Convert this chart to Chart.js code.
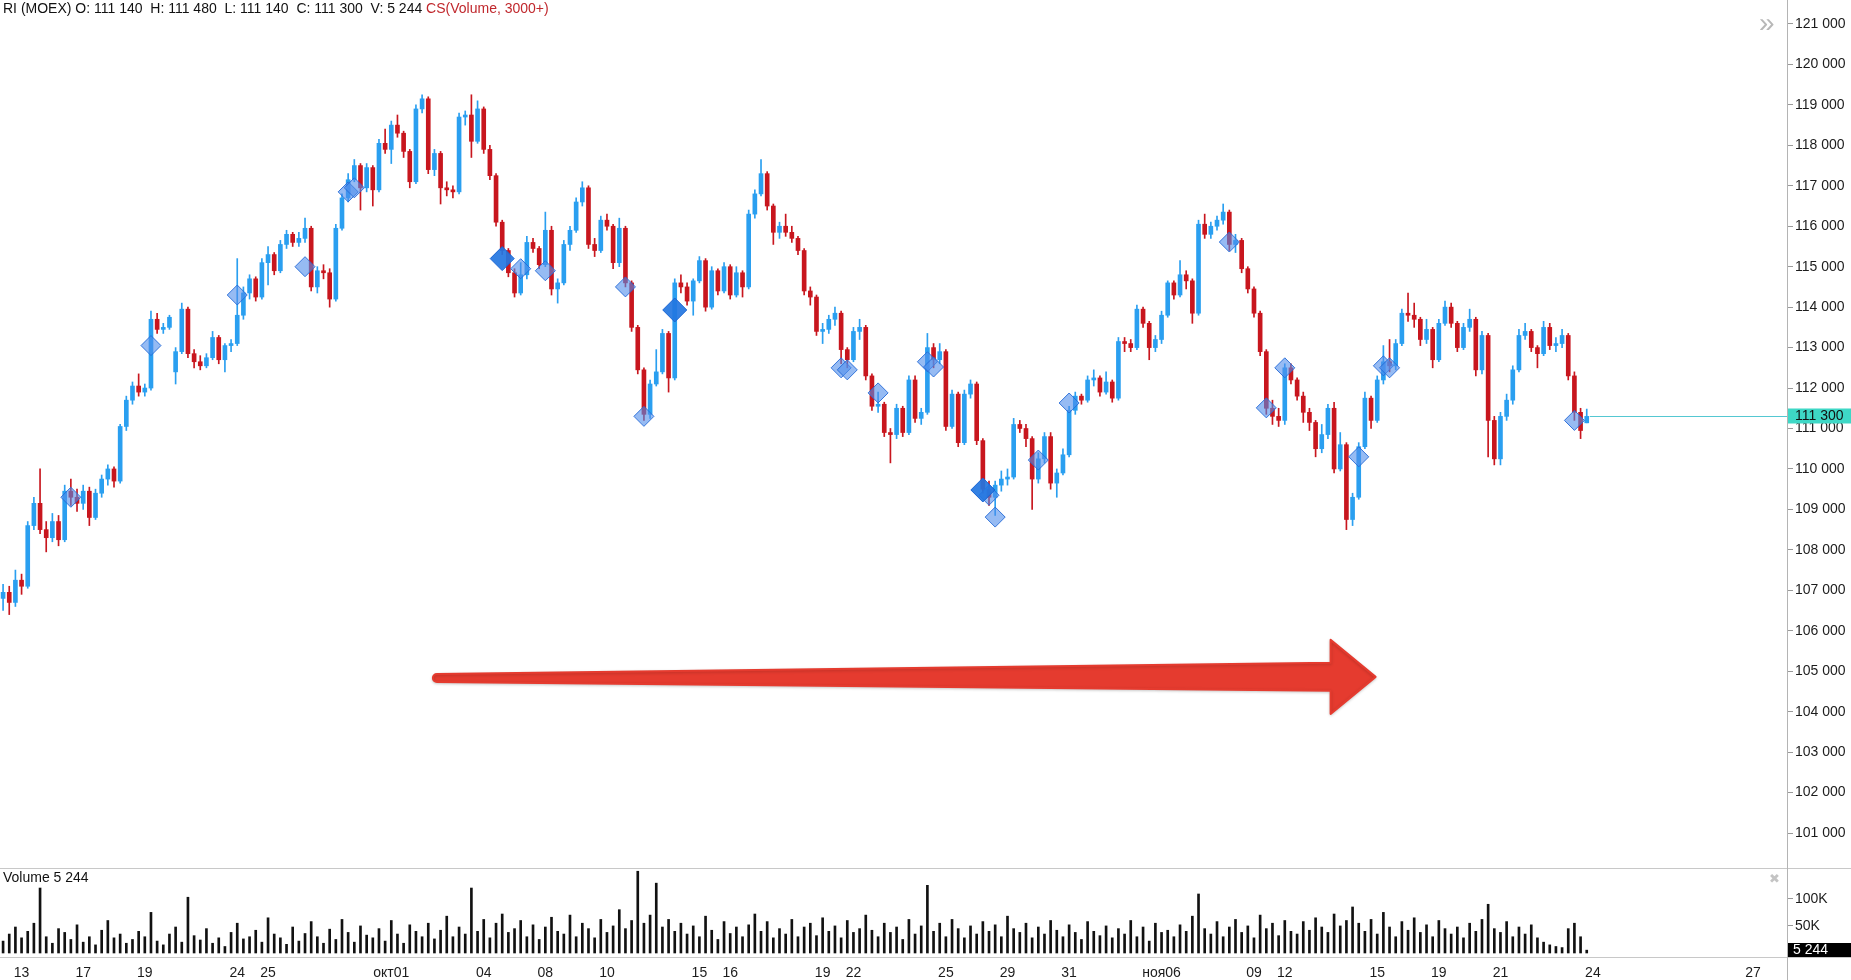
<!DOCTYPE html>
<html>
<head>
<meta charset="utf-8">
<script src="https://cdn.jsdelivr.net/npm/chart.js@4.4.1/dist/chart.umd.min.js"></script>
<style>
  body { margin: 0; background: #fff; width: 1851px; height: 980px; overflow: hidden; position: relative;
         font-family: "Liberation Sans", Arial, sans-serif; }
  #main { position: absolute; left: 0; top: 0; }
  #vol { position: absolute; left: 0; top: 868px; }
  .hline { position: absolute; left: 0; width: 1851px; height: 1px; background: #c8c8c8; }
  .vline { position: absolute; left: 1787px; top: 0; width: 1px; height: 980px; background: #b4b4b4; }
  #hdr { position: absolute; left: 3px; top: 0; font-size: 14px; line-height: 16px; color: #111; white-space: pre; }
  #hdr span { color: #c0282d; }
  #vlab { position: absolute; left: 3px; top: 869px; font-size: 14px; line-height: 16px; color: #111; white-space: pre; }
  #more { position: absolute; left: 1759px; top: 8px; font-size: 28px; line-height: 30px; color: #b8b8b8; }
  #shut { position: absolute; left: 1769px; top: 871px; font-size: 13px; line-height: 16px; color: #c4c4c4;
          font-family: "DejaVu Sans", sans-serif; }
</style>
</head>
<body>
<canvas id="main" width="1851" height="868"></canvas>
<canvas id="vol" width="1851" height="112"></canvas>
<div class="hline" style="top:868px"></div>
<div class="hline" style="top:957px"></div>
<div class="vline"></div>
<div id="hdr"></div>
<div id="vlab"></div>
<div id="more">»</div>
<div id="shut">✖</div>
<script>
// RI (MOEX), candles from 12 Sep to 23 Nov, 5 candles per trading day
const opens = [106800,106950,106700,107250,107100,108600,109150,108500,108300,108700,
  108250,109450,109300,109150,109450,108800,109400,109750,110000,109700,
  111050,111700,112050,111900,112000,113700,113450,113500,112400,112900,
  113950,112850,112650,112550,112750,113250,112700,113050,113100,113800,
  114350,114700,114250,115100,115300,114900,115550,115800,115600,115700,
  115950,114500,114900,114850,114200,115950,116700,117150,117500,116950,
  117450,116900,118050,117900,118500,118300,117850,117100,118900,119150,
  117400,117800,116950,116900,116850,118700,118750,118100,118900,117900,
  117250,116100,115400,114850,114350,114800,115600,115450,115050,115900,
  114450,114600,115550,115900,116600,116950,115550,115400,116150,116000,
  115100,115950,114600,113500,112450,111350,112100,112400,113350,112250,
  114600,114500,114150,114650,115150,114000,114900,114400,115000,114300,
  114850,114500,116300,116800,117300,116500,115850,116000,115850,115700,
  115400,114400,114250,113400,113450,113700,113850,112950,112700,113400,
  113500,112300,111550,111600,110900,110850,111500,110900,112200,111250,
  111400,113000,112700,112900,111050,111850,110650,111850,112100,110700,
  109500,109300,109600,109750,109800,111100,111000,110750,109750,110250,
  110800,109650,109900,110350,111450,111800,111700,112200,112250,111900,
  112150,111750,113150,113100,113000,113950,113600,113000,113200,113800,
  114600,114300,114800,114650,113850,116050,115800,116000,116150,116350,
  115550,115650,114950,114450,113850,112900,111500,111300,111200,112500,
  112200,111800,111400,111150,110500,110850,111500,110000,110600,108750,
  109300,110550,111750,111200,112200,112650,112550,113100,113850,113800,
  113700,113200,113450,112700,113600,114000,113600,113000,113500,113700,
  112450,113300,111200,110250,111300,111700,112450,113300,113400,113000,
  112850,113500,113050,113100,113300,112300,111400,111140];
const highs = [107150,107100,107500,107400,108700,109300,110000,108700,108900,108850,
  109600,109750,109500,109600,109550,109500,109850,110100,110050,111100,
  111800,112150,112350,112100,113900,113850,113600,113800,113000,114100,
  114000,112950,112800,112850,113400,113300,113100,113200,115200,114500,
  114800,114750,115200,115500,115350,115650,115900,115850,115850,116200,
  116000,115000,115050,114950,116050,116800,117300,117650,117550,117550,
  117500,118150,118400,118600,118750,118350,117900,119000,119250,119200,
  117900,117850,117100,117000,118800,118850,119250,119100,118950,118000,
  117300,116150,115450,114950,115100,115750,115700,115500,116350,116000,
  114700,115650,116000,116700,117100,117000,115700,116250,116300,116050,
  116200,116000,114650,113550,112500,112200,112950,113450,113400,114700,
  114800,114600,114700,115250,115200,115000,114950,115100,115050,115000,
  114900,116400,116900,117650,117350,116550,116100,116300,116000,115750,
  115450,114500,114300,113600,113800,114000,113900,113000,113500,113700,
  113550,112350,111900,111650,111000,111600,111550,112300,112300,111500,
  113350,113100,113100,112950,111950,111900,111950,112200,112150,110750,
  109700,109700,109950,110000,111250,111200,111100,110800,110400,110900,
  110900,110000,110500,111550,111900,111850,112300,112450,112300,112400,
  112200,113250,113250,113200,114050,114000,113650,113300,113900,114650,
  114650,115150,114900,114700,116150,116300,116100,116250,116550,116400,
  115800,115700,115000,114500,113900,112950,111700,111500,112600,112600,
  112250,111900,111500,111200,111100,111600,111650,110900,110650,109400,
  110650,111900,111800,112300,113050,113200,113200,113950,114350,114100,
  113750,113700,113500,113700,114150,114100,113650,113600,113950,113750,
  113400,113350,111300,111400,111850,112550,113450,113600,113450,113050,
  113650,113600,113250,113450,113350,112400,111500,111480];
const lows = [106500,106400,106600,106900,107050,108500,108400,107950,108200,108100,
  108200,109100,108950,109000,108600,108750,109300,109600,109550,109650,
  110950,111600,111800,111800,111950,113350,113350,113450,112100,112850,
  112750,112500,112450,112500,112700,112600,112400,112900,113050,113700,
  114200,114150,114200,114550,114800,114850,115450,115500,115500,115600,
  114400,114350,114700,114000,114150,115900,116600,117100,116400,116850,
  116500,116850,117800,117550,118200,117700,116950,117050,118800,117300,
  117250,116550,116750,116700,116800,118500,117700,118050,117800,117150,
  116000,115300,114750,114250,114300,114700,115350,114950,115000,114300,
  114100,114550,115400,115850,116500,115450,115250,115350,115900,114950,
  115000,114500,113400,112350,111200,111250,112050,112350,111900,112200,
  114350,114050,113800,114600,113900,113950,114300,114350,114200,114250,
  114250,114450,116200,116750,116400,115550,115700,115750,115600,115300,
  114300,114050,113300,113100,113350,113550,112600,112500,112650,113200,
  112200,111450,111400,110800,110150,110750,110800,110850,111150,111100,
  111350,112500,112600,110950,111000,110550,110600,111750,110600,109400,
  109100,108850,109450,109600,109750,110900,110550,109000,109650,110150,
  109500,109300,109850,110300,111350,111600,111650,112050,111800,111850,
  111650,111700,112900,112900,112950,113500,112700,112900,113100,113750,
  114200,114250,114450,113600,113800,115700,115700,115900,116050,115400,
  115350,114850,114350,113750,112800,111350,111100,111050,111100,112100,
  111700,111150,110950,110300,110400,110750,109900,109950,108500,108600,
  109250,110500,111000,111150,112100,112400,112450,113050,113650,113500,
  113050,113100,112500,112650,113550,113500,112900,112950,113400,112300,
  112350,110300,110100,110100,111200,111600,112400,113200,112900,112500,
  112800,112950,112900,113000,112200,111200,110750,111140];
const closes = [106950,106700,107250,107100,108600,109150,108500,108300,108700,108250,
  109450,109300,109150,109450,108800,109400,109750,110000,109700,111050,
  111700,112050,111900,112000,113700,113450,113500,113750,112900,113950,
  112850,112650,112550,112750,113250,112700,113050,113100,113800,114350,
  114700,114250,115100,115300,114900,115550,115800,115600,115700,115950,
  114500,114900,114850,114200,115950,116700,117150,117500,116950,117450,
  116900,118050,117900,118500,118300,117850,117100,118900,119150,117400,
  117800,116950,116900,116850,118700,118750,118100,118900,117900,117250,
  116100,115400,114850,114350,114800,115600,115450,115050,115900,114450,
  114600,115550,115900,116600,116950,115550,115400,116150,116000,115100,
  115950,114600,113500,112450,111350,112100,112400,113350,112250,114600,
  114500,114150,114650,115150,114000,114900,114400,115000,114300,114850,
  114500,116300,116800,117300,116500,115850,116000,115850,115700,115400,
  114400,114250,113400,113450,113700,113850,112950,112700,113400,113500,
  112300,111550,111600,110900,110850,111500,110900,112200,111250,111400,
  113000,112700,112900,111050,111850,110650,111850,112100,110700,109500,
  109300,109600,109750,109800,111100,111000,110750,109750,110250,110800,
  109650,109900,110350,111450,111800,111700,112200,112250,111900,112150,
  111750,113150,113100,113000,113950,113600,113000,113200,113800,114600,
  114300,114800,114650,113850,116050,115800,116000,116150,116350,115550,
  115650,114950,114450,113850,112900,111500,111300,111200,112500,112200,
  111800,111400,111150,110500,110850,111500,110000,110600,108750,109300,
  110550,111750,111200,112200,112650,112550,113100,113850,113800,113700,
  113200,113450,112700,113600,114000,113600,113000,113500,113700,112450,
  113300,111200,110250,111300,111700,112450,113300,113400,113000,112850,
  113500,113050,113100,113300,112300,111400,110950,111300];
// volume per candle, thousands of contracts
const volumes = [22,35,48,28,40,55,120,30,18,45,
  38,25,52,20,30,15,42,60,28,35,
  18,25,40,30,75,22,15,35,48,20,
  103,32,24,45,18,28,12,38,55,26,
  30,42,20,65,35,28,16,48,22,36,
  58,30,18,44,25,62,38,20,50,33,
  28,45,22,60,35,18,52,40,30,55,
  26,42,68,30,48,35,120,40,62,28,
  55,72,38,45,60,30,52,25,48,66,
  40,35,70,30,55,45,28,62,38,50,
  80,45,60,151,55,70,129,48,62,40,
  55,35,50,30,68,42,25,58,36,48,
  30,52,72,40,58,28,45,35,62,30,
  48,55,32,65,40,50,28,60,38,45,
  70,42,30,55,38,48,25,62,35,50,
  125,40,55,30,62,45,28,50,35,58,
  40,52,30,68,45,38,55,28,48,35,
  60,42,30,52,38,25,58,40,32,50,
  28,45,35,60,30,48,22,55,38,42,
  30,52,40,68,109,45,35,58,30,48,
  62,38,50,28,70,45,55,32,60,40,
  35,58,42,65,48,38,72,50,60,85,
  55,40,62,35,75,48,30,58,42,65,
  38,52,30,60,45,35,48,28,55,40,
  62,90,45,38,58,30,48,35,52,28,
  20,15,12,10,45,55,30,5.244];
// CS(Volume, 3000+) cluster markers: candle index, price, strong cluster flag
const markIdx   = [11,24,38,49,56,57,81,84,88,101,104,109,136,137,142,150,151,159,160,161,168,173,199,205,208,220,224,225,255];
const markPrice = [109300,113050,114300,115000,116850,116950,115200,114950,114900,114500,111300,113930,112500,112450,111880,112650,112520,109480,109350,108810,110220,111630,115610,111510,112500,110300,112550,112500,111200];
const markStrong = [0,0,0,0,0,0,1,0,0,0,0,1,0,0,0,0,0,1,0,0,0,0,0,0,0,0,0,0,0];
// date labels: candle slot, text
const dayTickIdx  = [3,13,23,38,43,63,78,88,98,113,118,133,138,153,163,173,188,203,208,223,233,243,258,284];
const dayTickText = ['13','17','19','24','25','окт01','04','08','10','15','16','19','22','25','29','31','ноя06','09','12','15','19','21','24','27'];
const priceTicks = [101000,102000,103000,104000,105000,106000,107000,108000,109000,110000,
  111000,112000,113000,114000,115000,116000,117000,118000,119000,120000,121000];
const volumeTicks = [50,100];

const SLOTS = 290;
const UP = '#2a9ff0', DOWN = '#c8161e';
const N = closes.length;
const fmt = v => String(Math.round(v)).replace(/\B(?=(\d{3})+(?!\d))/g, ' ');

Chart.defaults.font.family = '"Liberation Sans", Arial, sans-serif';
Chart.defaults.animation = false;

const labels = [];
for (let i = 0; i < SLOTS; i++) labels.push('c' + i);
const tickText = {};
dayTickIdx.forEach((k, j) => { tickText[k] = dayTickText[j]; });

const candleColors = closes.map((c, i) => (c >= opens[i] ? UP : DOWN));
const lightPts = new Array(N).fill(null);
const strongPts = new Array(N).fill(null);
markIdx.forEach((k, j) => {
  if (markStrong[j]) strongPts[k] = markPrice[j];
  else lightPts[k] = markPrice[j];
});

document.getElementById('hdr').innerHTML =
  'RI (MOEX) O: ' + fmt(opens[N - 1]) + '  H: ' + fmt(highs[N - 1]) + '  L: ' + fmt(lows[N - 1]) +
  '  C: ' + fmt(closes[N - 1]) + '  V: ' + fmt(volumes[N - 1] * 1000) + ' <span>CS(Volume, 3000+)</span>';
document.getElementById('vlab').textContent = 'Volume ' + fmt(volumes[N - 1] * 1000);

const overlay = {
  id: 'overlay',
  afterDatasetsDraw(chart) {
    const ctx = chart.ctx, xs = chart.scales.x, ys = chart.scales.y, area = chart.chartArea;
    // red arrow annotation, anchored in data space
    const from = [70.4, 104830], to = [222.9, 104860];
    const x0 = xs.getPixelForValue(from[0]), y0 = ys.getPixelForValue(from[1]);
    const x1 = xs.getPixelForValue(to[0]), y1 = ys.getPixelForValue(to[1]);
    const hx = x1 - 46;
    ctx.save();
    ctx.shadowColor = 'rgba(0,0,0,0.18)';
    ctx.shadowBlur = 3;
    ctx.shadowOffsetY = 1;
    ctx.fillStyle = '#e53b2f';
    ctx.strokeStyle = '#e53b2f';
    ctx.lineJoin = 'round';
    ctx.lineWidth = 2;
    ctx.beginPath();
    ctx.moveTo(x0, y0 - 4);
    ctx.lineTo(hx, y1 - 14);
    ctx.lineTo(hx, y1 - 37);
    ctx.lineTo(x1 - 1, y1);
    ctx.lineTo(hx, y1 + 37);
    ctx.lineTo(hx, y1 + 14);
    ctx.lineTo(x0, y0 + 4);
    ctx.arc(x0, y0, 4, Math.PI / 2, Math.PI * 1.5);
    ctx.closePath();
    ctx.fill();
    ctx.stroke();
    ctx.restore();

    // last price line and badge
    const last = closes[N - 1];
    const yp = Math.round(ys.getPixelForValue(last)) + 0.5;
    ctx.save();
    ctx.strokeStyle = '#55c8d2';
    ctx.lineWidth = 1;
    ctx.beginPath();
    ctx.moveTo(xs.getPixelForValue(N - 1) + 3, yp);
    ctx.lineTo(area.right, yp);
    ctx.stroke();
    ctx.fillStyle = '#3ed8c6';
    ctx.fillRect(area.right + 1, yp - 8, 64, 15);
    ctx.fillStyle = '#111';
    ctx.font = '14px "Liberation Sans", Arial, sans-serif';
    ctx.textBaseline = 'middle';
    ctx.fillText(fmt(last), area.right + 8, yp);
    ctx.restore();
  }
};

new Chart(document.getElementById('main'), {
  type: 'bar',
  data: {
    labels: labels,
    datasets: [
      {
        type: 'line', data: strongPts, showLine: false, pointStyle: 'rectRot',
        pointRadius: 12, pointBackgroundColor: 'rgba(35,118,225,0.92)',
        pointBorderColor: 'rgba(25,100,210,1)', pointBorderWidth: 1
      },
      {
        type: 'line', data: lightPts, showLine: false, pointStyle: 'rectRot',
        pointRadius: 10, pointBackgroundColor: 'rgba(80,142,235,0.6)',
        pointBorderColor: 'rgba(35,105,215,0.9)', pointBorderWidth: 1
      },
      {
        data: opens.map((o, i) => [o, closes[i]]),
        backgroundColor: candleColors, barThickness: 4, grouped: false, minBarLength: 1
      },
      {
        data: lows.map((l, i) => [l, highs[i]]),
        backgroundColor: candleColors, barThickness: 1, grouped: false
      }
    ]
  },
  options: {
    responsive: false,
    devicePixelRatio: 1,
    layout: { padding: 0, autoPadding: false },
    plugins: { legend: { display: false }, tooltip: { enabled: false } },
    scales: {
      x: { display: false },
      y: {
        position: 'right',
        min: 100135,
        max: 121593,
        afterBuildTicks: s => { s.ticks = priceTicks.map(v => ({ value: v })); },
        afterFit: s => { s.width = 64; s.paddingTop = 0; s.paddingBottom = 0; },
        border: { display: false },
        grid: { drawOnChartArea: false, tickLength: 6, color: '#999' },
        ticks: { color: '#1c1c1c', padding: 2, font: { size: 14 }, callback: v => fmt(v) }
      }
    }
  },
  plugins: [overlay]
});

const volBadge = {
  id: 'volBadge',
  afterDatasetsDraw(chart) {
    const ctx = chart.ctx, ys = chart.scales.y, area = chart.chartArea;
    const v = volumes[N - 1];
    const y = Math.min(ys.getPixelForValue(v), area.bottom - 7);
    ctx.save();
    ctx.fillStyle = '#000';
    ctx.fillRect(area.right + 1, y - 7, 64, 14);
    ctx.fillStyle = '#fff';
    ctx.font = '14px "Liberation Sans", Arial, sans-serif';
    ctx.textBaseline = 'middle';
    ctx.fillText(fmt(v * 1000), area.right + 6, y);
    ctx.restore();
  }
};

new Chart(document.getElementById('vol'), {
  type: 'bar',
  data: {
    labels: labels,
    datasets: [{ data: volumes, backgroundColor: '#111', barThickness: 2 }]
  },
  options: {
    responsive: false,
    devicePixelRatio: 1,
    layout: { padding: 0, autoPadding: false },
    plugins: { legend: { display: false }, tooltip: { enabled: false } },
    scales: {
      x: {
        afterBuildTicks: s => { s.ticks = dayTickIdx.map(k => ({ value: k })); },
        afterFit: s => { s.height = 23; s.paddingLeft = 0; s.paddingRight = 0; },
        border: { display: false },
        grid: { display: false, drawTicks: false },
        ticks: {
          autoSkip: false, maxRotation: 0, padding: 8, color: '#1c1c1c', font: { size: 14 },
          callback: v => tickText[v] || ''
        }
      },
      y: {
        position: 'right',
        min: -7.4,
        max: 157,
        afterBuildTicks: s => { s.ticks = volumeTicks.map(v => ({ value: v })); },
        afterFit: s => { s.width = 64; s.paddingTop = 0; s.paddingBottom = 0; },
        border: { display: false },
        grid: { drawOnChartArea: false, tickLength: 6, color: '#999' },
        ticks: { color: '#1c1c1c', padding: 2, font: { size: 14 }, callback: v => v + 'K' }
      }
    }
  },
  plugins: [volBadge]
});
</script>
</body>
</html>
